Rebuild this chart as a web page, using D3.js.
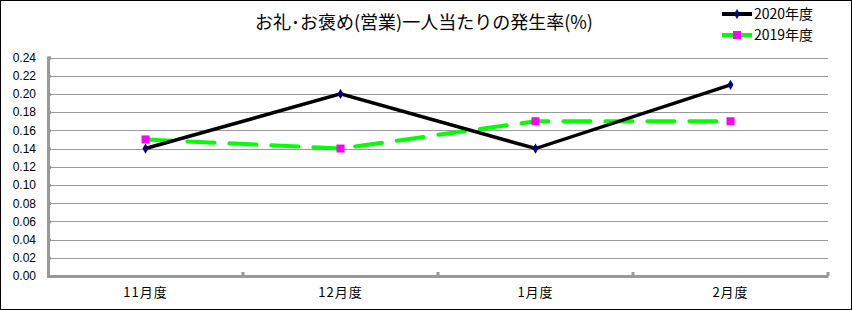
<!DOCTYPE html>
<meta charset="utf-8">
<body style="margin:0">
<style>
text { font-family: "Noto Sans CJK JP", sans-serif; fill: #000; }
.grid line { stroke: #999; stroke-width: 1px; }
.axis path, .axis line { stroke: #999; }
</style>
<script src="https://d3js.org/d3.v7.min.js"></script>
<script>

var months = ["11月度", "12月度", "1月度", "2月度"];
var y2020 = [0.14, 0.20, 0.14, 0.21];
var y2019 = [0.15, 0.14, 0.17, 0.17];
var yTicks = [0, 0.02, 0.04, 0.06, 0.08, 0.10, 0.12, 0.14, 0.16, 0.18, 0.20, 0.22, 0.24];
var title = "お礼･お褒め(営業)一人当たりの発生率(%)";

var W = 852, H = 310;
var mLeft = 48, mRight = 828, mTop = 57.5, mBottom = 276;

var svg = d3.select("body").append("svg")
    .attr("width", W)
    .attr("height", H);

svg.append("rect")
    .attr("x", 0.5).attr("y", 0.5)
    .attr("width", W - 1).attr("height", H - 1)
    .attr("fill", "#fff").attr("stroke", "#000");

var x = d3.scaleBand().domain(months).range([mLeft, mRight]);
var y = d3.scaleLinear().domain([0, 0.24]).range([mBottom, mTop]);

// horizontal gridlines
svg.append("g").attr("class", "grid")
  .selectAll("line")
    .data(yTicks.slice(1))
  .enter().append("line")
    .attr("x1", mLeft).attr("x2", mRight)
    .attr("y1", function(d) { return Math.round(y(d)) + 0.5; })
    .attr("y2", function(d) { return Math.round(y(d)) + 0.5; });

// y axis
var yAxis = svg.append("g")
    .attr("class", "axis")
    .attr("transform", "translate(" + mLeft + ",0)")
    .call(d3.axisLeft(y).tickValues(yTicks).tickFormat(d3.format(".2f")).tickSize(-3).tickPadding(12));
yAxis.select(".domain").attr("stroke-width", 3);
yAxis.selectAll("line").attr("stroke-width", 3);
yAxis.selectAll("text").style("font-size", "12px").style("font-family", "Liberation Sans, sans-serif");

// x axis
var xAxis = svg.append("g")
    .attr("class", "axis")
    .attr("transform", "translate(0," + mBottom + ")")
    .call(d3.axisBottom(x).tickSize(0).tickPadding(12));
xAxis.select(".domain").attr("stroke-width", 3);
xAxis.selectAll("text").style("font-size", "13px").style("letter-spacing", "1px");
xAxis.selectAll(".bound")
    .data(months)
  .enter().append("line")
    .attr("class", "bound")
    .attr("x1", function(d) { return x(d) + x.bandwidth(); })
    .attr("x2", function(d) { return x(d) + x.bandwidth(); })
    .attr("y1", 0).attr("y2", -4)
    .attr("stroke", "#999").attr("stroke-width", 3);

var cx = function(d, i) { return x(months[i]) + x.bandwidth() / 2; };
var line = d3.line().x(cx).y(function(d) { return y(d); });

// 2019 line
svg.append("path")
    .datum(y2019)
    .attr("d", line)
    .attr("fill", "none")
    .attr("stroke", "#00ff00")
    .attr("stroke-width", 4)
    .attr("stroke-dasharray", "27,15")
    .attr("stroke-linecap", "round");

// 2020 line
svg.append("path")
    .datum(y2020)
    .attr("d", line)
    .attr("fill", "none")
    .attr("stroke", "#000")
    .attr("stroke-width", 3.5);

svg.selectAll(".sq")
    .data(y2019)
  .enter().append("rect")
    .attr("x", function(d, i) { return cx(d, i) - 4; })
    .attr("y", function(d) { return y(d) - 4; })
    .attr("width", 8).attr("height", 8)
    .attr("fill", "#ff00ff");

var diamond = d3.symbol().type(d3.symbolDiamond).size(30);
svg.selectAll(".dm")
    .data(y2020)
  .enter().append("path")
    .attr("d", diamond)
    .attr("transform", function(d, i) { return "translate(" + cx(d, i) + "," + y(d) + ")"; })
    .attr("fill", "#000080");

// title
svg.append("text")
    .attr("x", 424).attr("y", 29)
    .attr("text-anchor", "middle")
    .style("font-size", "18px")
    .text(title);

// legend
var legend = [
  { name: "2020年度", color: "#000", mark: "diamond" },
  { name: "2019年度", color: "#00ff00", mark: "square" }
];
var lg = svg.selectAll(".lg")
    .data(legend)
  .enter().append("g")
    .attr("transform", function(d, i) { return "translate(722," + (14 + i * 21) + ")"; });
lg.append("line")
    .attr("x1", 0).attr("x2", 30)
    .attr("stroke", function(d) { return d.color; })
    .attr("stroke-width", 4);
lg.append("path")
    .attr("d", function(d) {
      return d.mark === "diamond" ? diamond() : "M-4,-4h8v8h-8z";
    })
    .attr("transform", "translate(15,0)")
    .attr("fill", function(d) { return d.mark === "diamond" ? "#000080" : "#ff00ff"; });
lg.append("text")
    .attr("x", 32).attr("y", 5)
    .style("font-size", "14px")
    .text(function(d) { return d.name; });

</script>
</body>
</html>
